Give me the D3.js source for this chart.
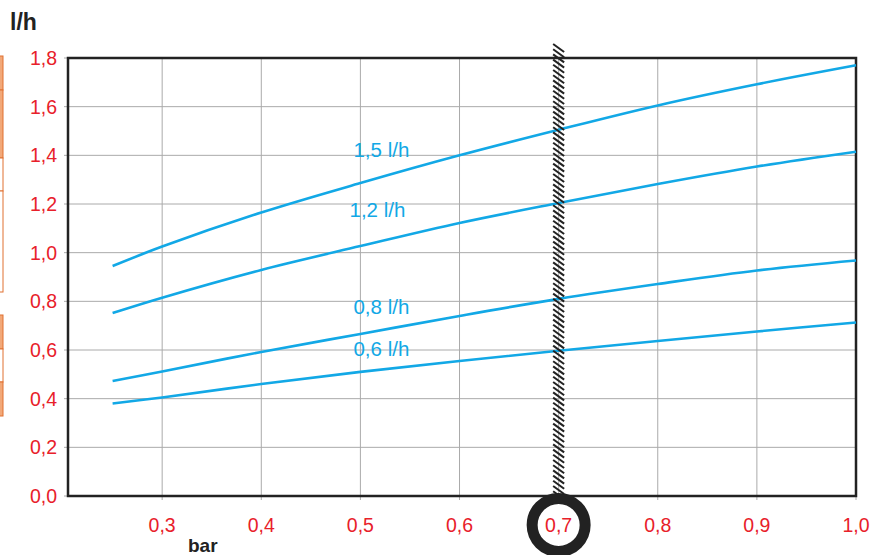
<!DOCTYPE html>
<html><head><meta charset="utf-8">
<script src="https://cdn.jsdelivr.net/npm/d3@7"></script>
<style>body{margin:0;background:#fff;font-family:"Liberation Sans",Arial,sans-serif}</style>
</head><body><svg id="c" width="870" height="555"></svg>
<script>
const xTicks = [0.3,0.4,0.5,0.6,0.7,0.8,0.9,1.0];
const yTicks = [0.0,0.2,0.4,0.6,0.8,1.0,1.2,1.4,1.6,1.8];
const xs = [0.25,0.3,0.4,0.5,0.6,0.7,0.8,0.9,1.0];
const s15 = [0.945,1.025,1.165,1.286,1.400,1.505,1.605,1.692,1.770];
const s12 = [0.752,0.815,0.929,1.027,1.122,1.204,1.282,1.354,1.415];
const s08 = [0.473,0.512,0.592,0.666,0.740,0.810,0.871,0.927,0.968];
const s06 = [0.380,0.405,0.460,0.510,0.555,0.597,0.637,0.676,0.713];
const seriesNames = ["1,5 l/h","1,2 l/h","0,8 l/h","0,6 l/h"];
const labelPos = [[0.493,1.393],[0.489,1.148],[0.493,0.750],[0.493,0.577]];
const markX = 0.7;

const svg = d3.select("#c");
const x = d3.scaleLinear().domain([0.205,1.0]).range([68,856]);
const y = d3.scaleLinear().domain([0,1.8]).range([496,58]);
const red = "#e8202a", blue = "#12a8e6";

// orange side boxes
const boxes = [[56,90,"#f2a878"],[90,158,"#f2a878"],[158,191,"#fff"],[191,292,"#fff"],[315,349,"#f2a878"],[349,382,"#fff"],[382,416,"#f2a878"]];
svg.selectAll("rect.ob").data(boxes).enter().append("rect")
  .attr("x",-1).attr("y",d=>d[0]).attr("width",4).attr("height",d=>d[1]-d[0])
  .attr("fill",d=>d[2]).attr("stroke","#e07030").attr("stroke-width",1);

// grid
svg.append("g").selectAll("line").data(xTicks).enter().append("line")
  .attr("x1",d=>x(d)).attr("x2",d=>x(d)).attr("y1",y(1.8)).attr("y2",y(0)+4)
  .attr("stroke","#aaa").attr("stroke-width",1);
svg.append("g").selectAll("line").data(yTicks).enter().append("line")
  .attr("x1",x.range()[0]-4).attr("x2",x.range()[1]).attr("y1",d=>y(d)).attr("y2",d=>y(d))
  .attr("stroke","#aaa").attr("stroke-width",1);

// tick labels
const fmt = d=>d3.format(".1f")(d).replace(".",",");
svg.append("g").selectAll("text").data(yTicks).enter().append("text")
  .attr("x",57).attr("y",d=>y(d)+7).attr("text-anchor","end")
  .attr("fill",red).attr("font-size",19.5).text(fmt);
svg.append("g").selectAll("text").data(xTicks).enter().append("text")
  .attr("x",d=>x(d)).attr("y",532).attr("text-anchor","middle")
  .attr("fill",red).attr("font-size",19.5).text(d=>d===markX?"":fmt(d));

// frame
svg.append("rect").attr("x",68).attr("y",58).attr("width",788).attr("height",438)
  .attr("fill","none").attr("stroke","#222").attr("stroke-width",2.5);

// curves
const line = d3.line().x((d,i)=>x(xs[i])).y(d=>y(d)).curve(d3.curveCatmullRom.alpha(0.5));
[s15,s12,s08,s06].forEach(s=>{
  svg.append("path").attr("d",line(s)).attr("fill","none").attr("stroke",blue).attr("stroke-width",2.6);
});
svg.append("g").selectAll("text").data(seriesNames).enter().append("text")
  .attr("x",(d,i)=>x(labelPos[i][0])).attr("y",(d,i)=>y(labelPos[i][1]))
  .attr("fill",blue).attr("font-size",20.5).text(d=>d);

// hatched marker line
const mx = x(markX);
const hg = svg.append("g");
const hy = d3.range(44, 492, 5.2);
hg.selectAll("line").data(hy).enter().append("line")
  .attr("x1",mx-5.5).attr("y1",d=>d).attr("x2",mx+5.5).attr("y2",d=>d+8)
  .attr("stroke","#222").attr("stroke-width",2);

// circle
svg.append("circle").attr("cx",mx).attr("cy",525).attr("r",26.5)
  .attr("fill","#fff").attr("stroke","#222").attr("stroke-width",11);
svg.append("text").attr("x",mx).attr("y",532).attr("text-anchor","middle")
  .attr("fill",red).attr("font-size",19.5).text(fmt(markX));

// axis titles
svg.append("text").attr("x",10).attr("y",30).attr("font-weight","bold").attr("font-size",23).attr("fill","#222").text("l/h");
svg.append("text").attr("x",188).attr("y",552).attr("font-weight","bold").attr("font-size",19).attr("fill","#222").text("bar");
</script></body></html>
